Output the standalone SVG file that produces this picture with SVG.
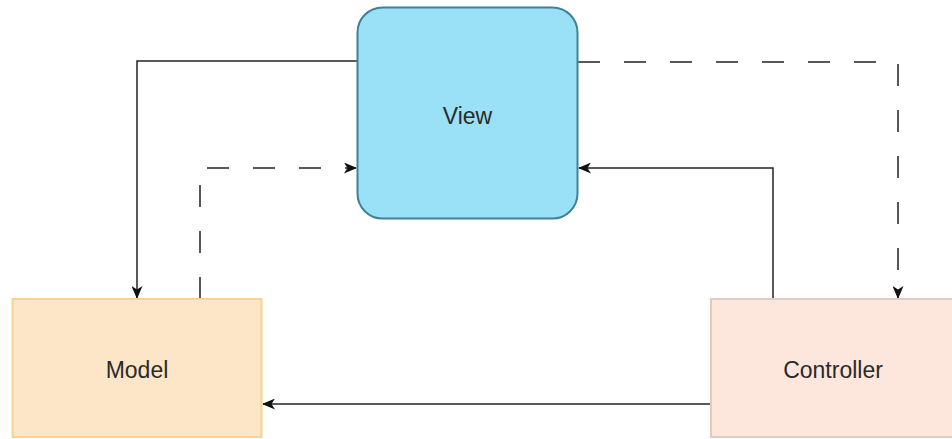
<svg xmlns="http://www.w3.org/2000/svg" width="952" height="439" viewBox="0 0 952 439">
  <style>
    .label { font-family: "Liberation Sans", Arial, sans-serif; font-size: 23px; fill: #2a2a2a; text-anchor: middle; dominant-baseline: central; }
    .link { fill: none; stroke: #222; stroke-width: 1.5; }
    .dashed { stroke-dasharray: 22 24; }
  </style>
  <defs>
    <marker id="arrow" viewBox="0 0 13 11" refX="12" refY="5.5" markerWidth="13" markerHeight="11" markerUnits="userSpaceOnUse" orient="auto">
      <path d="M0,0 L13,5.5 L0,11 L3.5,5.5 Z" fill="#111"/>
    </marker>
  </defs>
  <rect width="952" height="439" fill="#ffffff"/>

  <g id="connectors">
    <!-- View -> Model -->
    <path class="link" d="M357,61 H137 V298" marker-end="url(#arrow)"/>
    <!-- Model -> View (dashed) -->
    <path class="link dashed" d="M200,299 V168 H356" marker-end="url(#arrow)"/>
    <!-- View -> Controller (dashed) -->
    <path class="link dashed" d="M578,62 H898 V298" marker-end="url(#arrow)"/>
    <!-- Controller -> View -->
    <path class="link" d="M773,299 V168 H579" marker-end="url(#arrow)"/>
    <!-- Controller -> Model -->
    <path class="link" d="M711,404 H263" marker-end="url(#arrow)"/>
  </g>

  <g id="view">
    <rect x="357.5" y="7.5" width="220" height="211" rx="25" ry="25" fill="#9ae0f7" stroke="#3e8199" stroke-width="2"/>
    <text class="label" x="467.5" y="116">View</text>
  </g>

  <g id="model">
    <rect x="12.5" y="299" width="249" height="138" fill="#fde6c8" stroke="#f6d38f" stroke-width="2"/>
    <text class="label" x="137" y="370">Model</text>
  </g>

  <g id="controller">
    <rect x="711" y="299" width="245" height="138" fill="#fde6dc" stroke="#e6cabd" stroke-width="2"/>
    <text class="label" x="833" y="370">Controller</text>
  </g>
</svg>
